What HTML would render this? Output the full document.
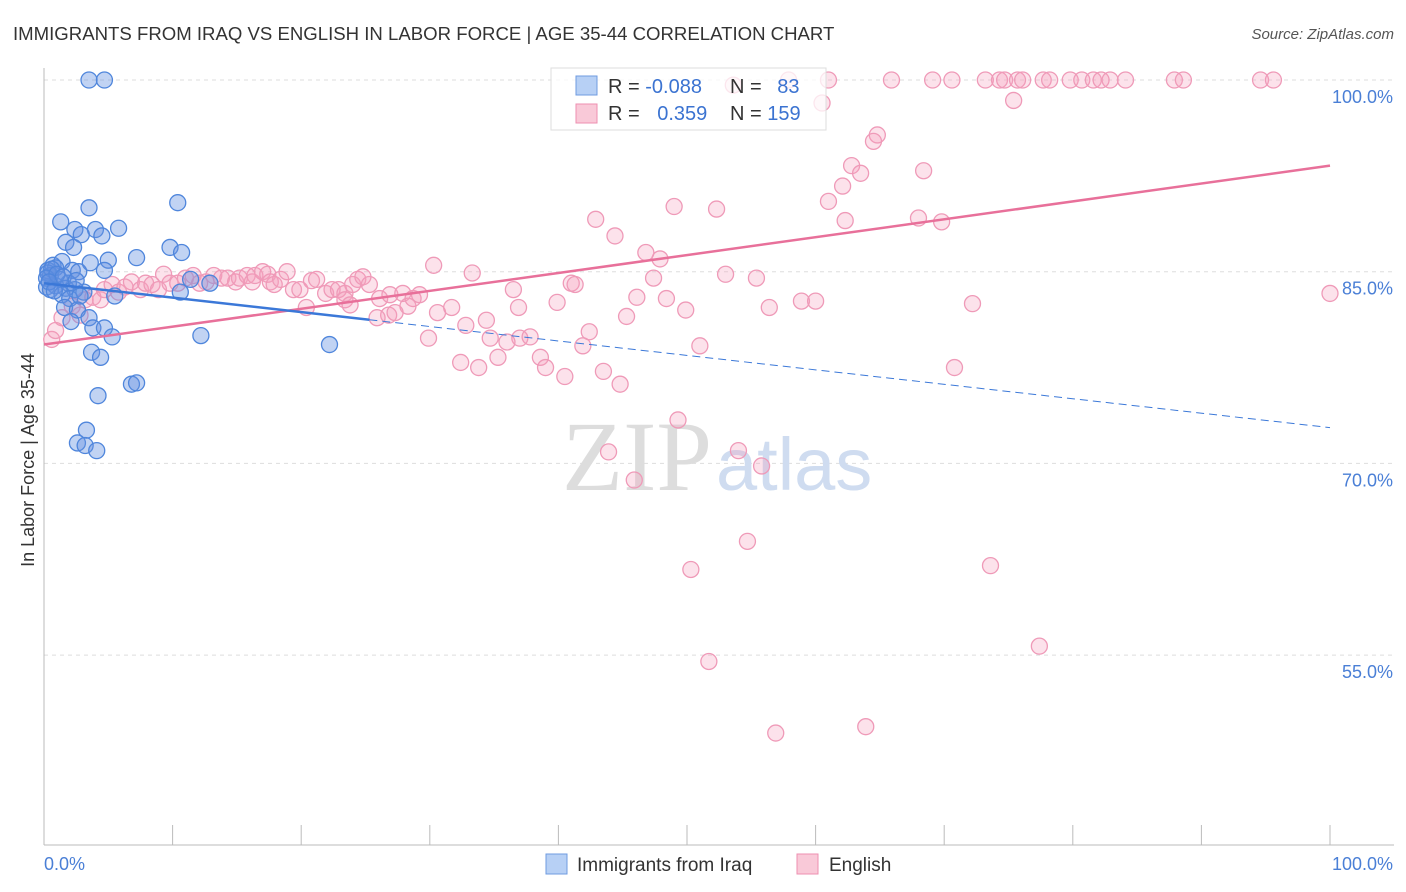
<!DOCTYPE html>
<html><head><meta charset="utf-8"><style>
body{margin:0;background:#fff;font-family:"Liberation Sans",sans-serif;}
svg{display:block}
</style></head><body>
<svg id="chart" width="1406" height="892" xmlns="http://www.w3.org/2000/svg">
<text x="13" y="40" font-size="18.6" fill="#333">IMMIGRANTS FROM IRAQ VS ENGLISH IN LABOR FORCE | AGE 35-44 CORRELATION CHART</text>
<text x="1394" y="39" font-size="15" fill="#555" font-style="italic" text-anchor="end">Source: ZipAtlas.com</text>
<g id="grid"></g>
<text x="712" y="490" font-size="100" font-family="Liberation Serif,serif" fill="#ddd" text-anchor="end">ZIP</text>
<text x="716" y="490" font-size="74" fill="#cfdcf0">atlas</text>
<g id="marks"></g>
<text x="34" y="460" font-size="18" fill="#333" text-anchor="middle" transform="rotate(-90 34 460)">In Labor Force | Age 35-44</text>
<text x="44" y="870" font-size="18" fill="#4a7fd6">0.0%</text>
<text x="1393" y="870" font-size="18" fill="#4a7fd6" text-anchor="end">100.0%</text>
<g>
<rect x="551" y="68" width="275" height="62" fill="#fff" fill-opacity="0.75" stroke="#ddd"/>
<rect x="576" y="76" width="21" height="19" fill="#b7d0f5" stroke="#6f9be0"/>
<rect x="576" y="104" width="21" height="19" fill="#f9c9d8" stroke="#ee8fb0"/>
<text x="608" y="93" font-size="20" fill="#333">R = <tspan fill="#3b73d1">-0.088</tspan></text>
<text x="730" y="93" font-size="20" fill="#333">N = <tspan fill="#3b73d1" dx="10">83</tspan></text>
<text x="608" y="120" font-size="20" fill="#333">R = <tspan fill="#3b73d1" dx="12">0.359</tspan></text>
<text x="730" y="120" font-size="20" fill="#333">N = <tspan fill="#3b73d1">159</tspan></text>
</g>
<g>
<rect x="546" y="854" width="21" height="20" fill="#b7d0f5" stroke="#6f9be0"/>
<text x="577" y="871" font-size="19" fill="#333">Immigrants from Iraq</text>
<rect x="797" y="854" width="21" height="20" fill="#f9c9d8" stroke="#ee8fb0"/>
<text x="829" y="871" font-size="19" fill="#333">English</text>
</g>
</svg>
<script>
const yTicks=[100,85,70,55];
const yTickLabels=["100.0%","85.0%","70.0%","55.0%"];
const xTicks=[0,10,20,30,40,50,60,70,80,90,100];
const blueX=[3.5,4.7,10.4,3.5,1.3,5.8,2.4,4.0,2.9,4.5,1.7,2.3,9.8,10.7,7.2,5.0,3.6,0.7,1.4,0.3,0.9,2.2,4.7,2.7,0.5,1.2,1.9,0.2,0.9,1.7,2.4,3.1,0.5,1.4,2.0,2.8,5.5,10.6,12.9,11.4,1.6,2.6,3.5,2.1,3.8,4.7,5.3,12.2,22.2,3.7,4.4,6.8,7.2,4.2,3.3,2.6,3.2,4.1,0.3,0.6,0.2,1.0,0.4,1.5,2.5,0.8];
const blueY=[100,100,90.4,90.0,88.9,88.4,88.3,88.3,87.9,87.8,87.3,86.9,86.9,86.5,86.1,85.9,85.7,85.5,85.8,85.1,85.3,85.1,85.1,85.0,84.7,84.4,84.1,83.8,83.9,83.7,83.6,83.4,83.6,83.2,82.9,83.1,83.1,83.4,84.1,84.4,82.2,82.0,81.4,81.1,80.6,80.6,79.9,80.0,79.3,78.7,78.3,76.2,76.3,75.3,72.6,71.6,71.4,71.0,84.9,85.2,84.5,84.8,84.2,84.6,84.3,83.5];
const pinkX=[57.9,61.0,65.9,69.1,70.6,73.2,74.3,74.7,75.7,76.1,77.7,78.2,79.8,80.7,81.6,82.2,82.9,84.1,87.9,88.6,94.6,95.6,53.6,60.5,75.4,64.8,64.5,62.8,68.4,63.5,62.1,61.0,49.0,52.3,42.9,68.0,69.8,62.3,44.4,46.8,47.9,30.3,33.3,53.0,55.4,47.4,41.0,41.3,36.5,46.1,48.4,58.9,60.0,72.2,39.9,36.9,56.4,49.9,30.6,31.7,45.3,34.4,32.8,26.8,28.3,20.4,25.9,27.3,42.4,37.0,37.8,34.7,36.0,29.9,51.0,41.9,32.4,38.6,35.3,33.8,39.0,40.5,43.5,44.8,70.8,49.3,43.9,54.0,55.8,45.9,54.7,50.3,73.6,77.4,51.7,56.9,63.9,100,0.6,0.9,1.4,2.2,2.8,3.2,3.8,4.4,4.7,5.3,5.8,6.3,6.8,7.5,7.9,8.4,8.9,9.3,9.8,10.4,11.0,11.6,12.1,12.6,13.2,13.8,14.3,14.9,15.2,15.8,16.2,16.4,17.0,17.4,17.6,17.9,18.4,18.9,19.4,19.9,20.8,21.2,21.9,22.4,22.9,23.4,23.4,23.8,24.0,24.4,24.8,25.3,26.1,26.9,27.9,28.7,29.2];
const pinkY=[100,100,100,100,100,100,100,100,100,100,100,100,100,100,100,100,100,100,100,100,100,100,99.6,98.2,98.4,95.7,95.2,93.3,92.9,92.7,91.7,90.5,90.1,89.9,89.1,89.2,88.9,89.0,87.8,86.5,86.0,85.5,84.9,84.8,84.5,84.5,84.1,84.0,83.6,83.0,82.9,82.7,82.7,82.5,82.6,82.2,82.2,82.0,81.8,82.2,81.5,81.2,80.8,81.6,82.3,82.2,81.4,81.8,80.3,79.8,79.9,79.8,79.5,79.8,79.2,79.2,77.9,78.3,78.3,77.5,77.5,76.8,77.2,76.2,77.5,73.4,70.9,71.0,69.8,68.7,63.9,61.7,62.0,55.7,54.5,48.9,49.4,83.3,79.7,80.4,81.4,82.3,81.6,82.8,83.0,82.8,83.6,84.0,83.4,83.8,84.2,83.6,84.1,84.0,83.6,84.8,84.1,84.1,84.5,84.7,84.1,84.2,84.7,84.5,84.5,84.2,84.5,84.7,84.2,84.7,85.0,84.8,84.2,84.0,84.4,85.0,83.6,83.6,84.3,84.4,83.3,83.6,83.6,83.3,82.8,82.4,84.0,84.4,84.6,84.0,82.9,83.2,83.3,82.9,83.2];
const pinkTrend=[79.3,93.3];
const blueTrend=[84.1,72.8];
const blueSolidEnd=25.3;

const NS="http://www.w3.org/2000/svg";
const xs=v=>44+v*12.86;
const ys=v=>80+(100-v)*12.78;
const grid=document.getElementById('grid'), marks=document.getElementById('marks');
function mk(tag,attrs,parent){const e=document.createElementNS(NS,tag);for(const k in attrs)e.setAttribute(k,attrs[k]);parent.appendChild(e);return e;}
yTicks.forEach((t,i)=>{
  const l=mk('line',{x1:44,x2:1394,y1:ys(t),y2:ys(t),stroke:'#ddd','stroke-dasharray':'4,4'},grid);
  
  
  const tx=mk('text',{x:1393,y:ys(t)+23,'font-size':18,fill:'#4a7fd6','text-anchor':'end'},grid);
  tx.textContent=yTickLabels[i];
  
  
});
const ax=mk('line',{x1:44,x2:44,y1:68,y2:845,stroke:'#bbb'},grid);


const bx=mk('line',{x1:44,x2:1394,y1:845,y2:845,stroke:'#bbb'},grid);


xTicks.forEach(t=>{
  const l=mk('line',{x1:xs(t),x2:xs(t),y1:825,y2:845,stroke:'#bbb'},grid);
  
  
});
pinkX.forEach((x,i)=>{
  const c=mk('circle',{cx:xs(x),cy:ys(pinkY[i]),r:8,fill:'rgba(244,160,190,0.3)',stroke:'#ef9ab8','stroke-width':1.3},marks);
  
  
});
blueX.forEach((x,i)=>{
  const c=mk('circle',{cx:xs(x),cy:ys(blueY[i]),r:8,fill:'rgba(100,145,225,0.4)',stroke:'#4f86dc','stroke-width':1.3},marks);
  
  
});
const pl=mk('line',{x1:xs(0),y1:ys(pinkTrend[0]),x2:xs(100),y2:ys(pinkTrend[1]),stroke:'#e8709a','stroke-width':2.5},marks);


const bAt=x=>blueTrend[0]+(blueTrend[1]-blueTrend[0])*x/100;
const bl=mk('line',{x1:xs(0),y1:ys(bAt(0)),x2:xs(blueSolidEnd),y2:ys(bAt(blueSolidEnd)),stroke:'#3b78d8','stroke-width':2.5},marks);


const bd=mk('line',{x1:xs(blueSolidEnd),y1:ys(bAt(blueSolidEnd)),x2:xs(100),y2:ys(bAt(100)),stroke:'#3b78d8','stroke-width':1,'stroke-dasharray':'8,5'},marks);


</script>
</body></html>
